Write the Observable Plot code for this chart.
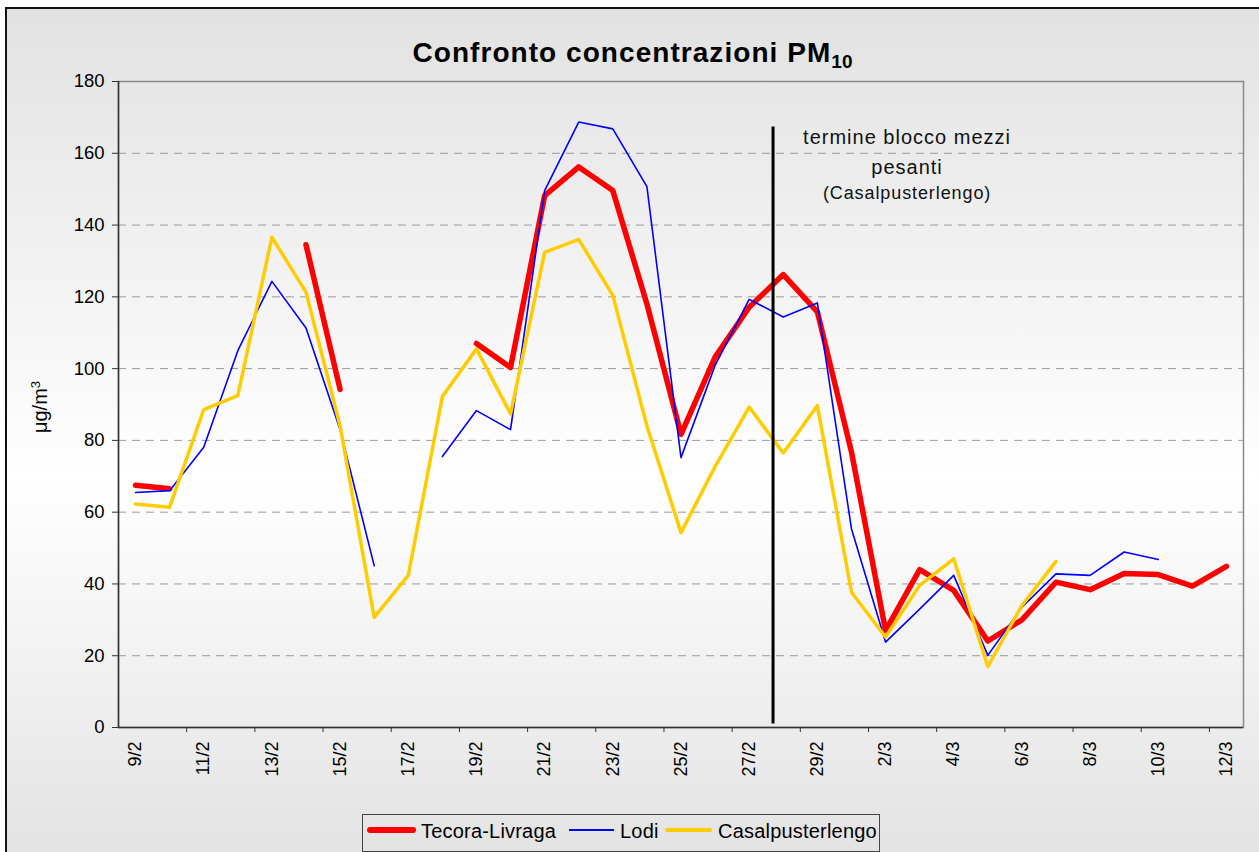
<!DOCTYPE html>
<html>
<head>
<meta charset="utf-8">
<script src="https://cdn.jsdelivr.net/npm/d3@7"></script>
<script src="https://cdn.jsdelivr.net/npm/@observablehq/plot@0.6"></script>
<style>
  html, body { margin:0; padding:0; width:1259px; height:852px; overflow:hidden; background:#fff;
    font-family:"Liberation Sans", Arial, Helvetica, sans-serif; }
  #frame { position:absolute; left:5px; top:7px; width:1300px; height:900px;
    border-left:2px solid #111; border-top:2px solid #111;
    background:linear-gradient(to bottom, #e2e2e2 0px, #ffffff 470px, #e3e3e3 845px); }
  #chart { position:absolute; left:0; top:0; }
  #title { position:absolute; left:0; top:39px; width:1265px; text-align:center; font-weight:bold;
    font-size:28px; line-height:28px; letter-spacing:1.05px; color:#000; white-space:nowrap; }
  #title .sub { font-size:19px; position:relative; top:6px; letter-spacing:0; }
  #ylabel { position:absolute; left:40px; top:407px; transform:translate(-50%,-50%) rotate(-90deg);
    font-size:20px; line-height:20px; white-space:nowrap; color:#000; }
  #ylabel sup { font-size:13px; position:relative; top:-4px; vertical-align:top; }
  #legend { position:absolute; left:362px; top:814px; width:516px; height:36px; border:1px solid #444; }
  #legend .sw { position:absolute; display:block; }
  #legend .lt { position:absolute; top:6px; font-size:20px; line-height:20px; letter-spacing:0.2px; color:#000; white-space:nowrap; }
</style>
</head>
<body>
<div id="frame"></div>
<div id="chart"></div>
<div id="title">Confronto concentrazioni PM<span class="sub">10</span></div>
<div id="ylabel">μg/m<sup>3</sup></div>
<div id="legend"></div>
<script>
// ---- data ----
const dates = ["9/2","10/2","11/2","12/2","13/2","14/2","15/2","16/2","17/2","18/2","19/2","20/2",
  "21/2","22/2","23/2","24/2","25/2","26/2","27/2","28/2","29/2",
  "1/3","2/3","3/3","4/3","5/3","6/3","7/3","8/3","9/3","10/3","11/3","12/3"];
const tecora = [67.5, 66.5, null, null, null, 134.5, 94.2, null, null, null, 107.0, 100.3,
  148.2, 156.2, 149.6, 118.0, 81.7, 103.2, 117.1, 126.2, 115.8,
  76.8, 27.0, 44.0, 38.2, 24.1, 30.0, 40.5, 38.4, 42.9, 42.6, 39.4, 44.9];
const lodi = [65.5, 66.0, 78.1, 105.0, 124.3, 111.3, 83.0, 45.1, null, 75.5, 88.3, 83.0,
  149.6, 168.7, 166.8, 150.7, 75.2, 100.9, 119.3, 114.4, 118.3,
  55.4, 23.8, 33.0, 42.4, 20.1, 33.5, 42.8, 42.4, 48.9, 46.8, null, null];
const casal = [62.3, 61.4, 88.6, 92.5, 136.6, 121.3, 84.0, 30.7, 42.4, 92.2, 105.5, 87.4,
  132.4, 136.0, 120.4, 84.0, 54.3, 72.7, 89.3, 76.5, 89.7,
  37.7, 25.2, 39.6, 47.0, 17.0, 34.0, 46.3, null, null, null, null, null];
const yTicks = [0, 20, 40, 60, 80, 100, 120, 140, 160, 180];
const seriesNames = ["Tecora-Livraga", "Lodi", "Casalpusterlengo"];
const seriesColors = ["#ff0000", "#0000ff", "#ffcc00"];
const eventIndex = 18.7;           // end of heavy-vehicle block (between 27/2 and 28/2)
const eventSpan = [1, 167.3];      // vertical extent of the marker line (µg/m3)
const annotLines = ["termine blocco mezzi\npesanti", "(Casalpusterlengo)"];

// ---- table ----
const rows = dates.map((d, i) => ({i, date: d, tecora: tecora[i], lodi: lodi[i], casal: casal[i]}));
const labelIdx = dates.map((d, i) => i).filter(i => i % 2 === 0);
const boundaryIdx = labelIdx.slice(1).map(i => i - 0.5);

const chart = Plot.plot({
  width: 1259,
  height: 800,
  marginTop: 81,
  marginBottom: 73,
  marginLeft: 118,
  marginRight: 16,
  x: {type: "linear", domain: [-0.5, dates.length - 0.5]},
  y: {domain: [0, 180]},
  style: {background: "transparent", fontFamily: "'Liberation Sans', Arial, sans-serif", color: "#000"},
  marks: [
    Plot.gridY(yTicks.filter(v => v > 0 && v < 180), {stroke: "#9a9a9a", strokeOpacity: 1, strokeDasharray: "8,6", strokeWidth: 1}),
    Plot.frame({stroke: "#8a8a8a", strokeWidth: 1.5}),
    Plot.ruleX([-0.5], {stroke: "#333", strokeWidth: 1.5}),
    Plot.ruleY([0], {stroke: "#333", strokeWidth: 1.5}),
    Plot.axisY({ticks: yTicks, tickSize: 6, tickPadding: 8, fontSize: 18.5, label: null, stroke: "#333"}),
    Plot.axisX({ticks: boundaryIdx, tickSize: 5, tickFormat: () => "", label: null, stroke: "#333"}),
    Plot.axisX({ticks: labelIdx, tickSize: 0, tickPadding: 14, tickRotate: -90, tickFormat: i => dates[i], fontSize: 18, label: null}),
    Plot.line(rows, {x: "i", y: "tecora", stroke: seriesColors[0], strokeWidth: 5.5, strokeLinejoin: "round"}),
    Plot.line(rows, {x: "i", y: "lodi", stroke: seriesColors[1], strokeWidth: 1.6}),
    Plot.line(rows, {x: "i", y: "casal", stroke: seriesColors[2], strokeWidth: 3.5}),
    Plot.ruleX([eventIndex], {y1: eventSpan[0], y2: eventSpan[1], stroke: "#000", strokeWidth: 3}),
    Plot.text([annotLines[0]], {x: eventIndex, y: 180, dx: 134, dy: 42, lineAnchor: "top", fontSize: 20, lineHeight: 1.47, fill: "#111"}),
    Plot.text([annotLines[1]], {x: eventIndex, y: 180, dx: 134, dy: 105, lineAnchor: "top", fontSize: 18, fill: "#111"})
  ]
});
document.getElementById("chart").appendChild(chart);

// letter spacing for the annotation texts
const textGroups = chart.querySelectorAll('g[aria-label="text"]');
if (textGroups[0]) textGroups[0].style.letterSpacing = "1px";
if (textGroups[1]) textGroups[1].style.letterSpacing = "0.9px";

// ---- legend ----
const legend = document.getElementById("legend");
const swatches = [
  {left: 4, width: 49, height: 6, top: 12, radius: 3},
  {left: 206, width: 45, height: 2, top: 14, radius: 0},
  {left: 302, width: 47, height: 4, top: 13, radius: 2}
];
const textLefts = [58, 257, 355];
seriesNames.forEach((name, k) => {
  const s = swatches[k];
  const sw = document.createElement("span");
  sw.className = "sw";
  Object.assign(sw.style, {left: s.left + "px", width: s.width + "px", height: s.height + "px",
    top: s.top + "px", background: seriesColors[k], borderRadius: s.radius + "px"});
  legend.appendChild(sw);
  const t = document.createElement("span");
  t.className = "lt";
  t.style.left = textLefts[k] + "px";
  t.textContent = name;
  legend.appendChild(t);
});
</script>
</body>
</html>
